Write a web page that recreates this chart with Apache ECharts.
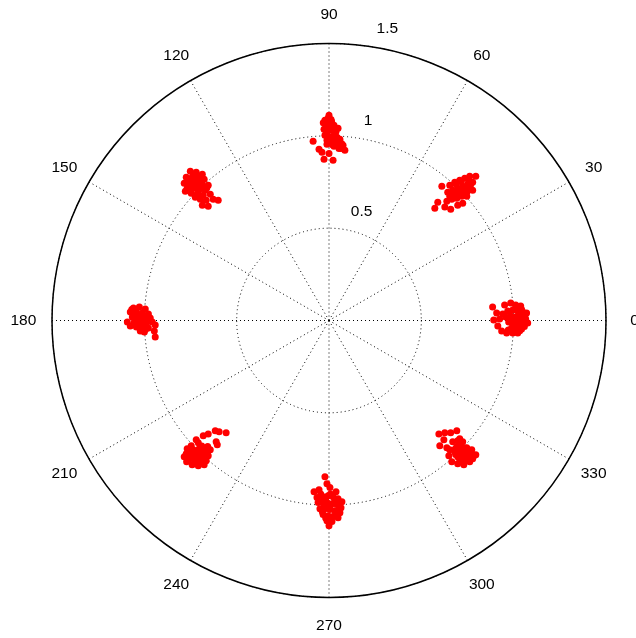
<!DOCTYPE html>
<html>
<head>
<meta charset="utf-8">
<script src="https://cdn.jsdelivr.net/npm/echarts@6/dist/echarts.min.js"></script>
<style>
  html, body { margin: 0; padding: 0; background: #ffffff; }
  #chart { width: 636px; height: 638px; }
</style>
</head>
<body>
<div id="chart"></div>
<script>
// Tick labels
const angleTickValues = [0, 30, 60, 90, 120, 150, 180, 210, 240, 270, 300, 330];
const angleTickLabels = ['0', '30', '60', '90', '120', '150', '180', '210', '240', '270', '300', '330'];
const radiusTickValues = [0.5, 1, 1.5];
const radiusLabelAngle = 82;
const angleLabelRadius = 1.655;

// Received 8-PSK symbols, [in-phase, quadrature]
const sym000 = [[0.886,0.073],[0.908,0.041],[0.892,0.003],[0.914,-0.030],[0.935,-0.057],[0.962,-0.068],[0.995,-0.068],[1.022,-0.068],[0.951,0.084],[0.984,0.095],[1.011,0.084],[1.038,0.078],[0.968,0.051],[0.995,0.057],[1.022,0.051],[1.049,0.046],[1.070,0.041],[0.957,0.019],[0.984,0.024],[1.011,0.019],[1.038,0.014],[1.065,0.008],[0.973,-0.008],[1.0,-0.014],[1.027,-0.014],[1.054,-0.019],[0.989,-0.041],[1.016,-0.041],[1.043,-0.046],[0.941,0.035],[0.924,0.008],[1.076,-0.014],[1.03,0.03],[1.00,0.00],[1.05,0.00],[1.02,-0.025],[1.007,0.062],[1.043,0.059],[1.061,0.027],[0.979,0.004],[1.017,-0.004],[1.058,-0.032],[0.997,-0.027],[1.033,-0.055],[0.971,-0.052],[1.048,0.022]];
const sym045 = [[0.654,0.732],[0.681,0.749],[0.708,0.759],[0.735,0.770],[0.762,0.781],[0.795,0.781],[0.670,0.705],[0.697,0.716],[0.724,0.727],[0.751,0.738],[0.778,0.749],[0.654,0.673],[0.681,0.684],[0.708,0.695],[0.735,0.705],[0.762,0.711],[0.638,0.646],[0.665,0.657],[0.692,0.662],[0.719,0.673],[0.746,0.673],[0.611,0.727],[0.589,0.641],[0.573,0.608],[0.627,0.614],[0.659,0.603],[0.697,0.624],[0.724,0.635],[0.778,0.705],[0.643,0.695],[0.688,0.738],[0.716,0.752],[0.741,0.722],[0.703,0.681],[0.729,0.692],[0.757,0.760],[0.676,0.697],[0.747,0.696],[0.713,0.711],[0.767,0.735]];
const sym090 = [[-0.022,1.084],[-0.005,1.095],[0.011,1.089],[-0.016,1.062],[0.005,1.068],[0.027,1.057],[-0.027,1.035],[-0.005,1.035],[0.016,1.030],[0.038,1.024],[-0.022,1.003],[0,0.997],[0.022,0.997],[0.043,0.992],[0.059,0.981],[-0.011,0.976],[0.011,0.970],[0.032,0.965],[0.054,0.959],[0.076,0.949],[0.065,0.932],[0.086,0.922],[0.027,0.943],[0,1.111],[0.049,1.041],[-0.086,0.970],[-0.054,0.927],[-0.038,0.911],[0,0.905],[0.054,0.932],[-0.027,0.873],[0.022,0.868],[-0.011,0.954],[0.006,1.047],[0.031,1.011],[-0.013,1.017],[0.046,0.966],[0.019,0.952],[0.069,0.957],[-0.031,1.071],[0.014,1.078]];
const sym135 = [[-0.751,0.808],[-0.719,0.803],[-0.686,0.792],[-0.773,0.776],[-0.741,0.776],[-0.708,0.770],[-0.676,0.765],[-0.784,0.743],[-0.751,0.743],[-0.719,0.743],[-0.686,0.738],[-0.654,0.732],[-0.768,0.716],[-0.735,0.716],[-0.703,0.711],[-0.670,0.705],[-0.746,0.689],[-0.714,0.684],[-0.681,0.678],[-0.643,0.684],[-0.627,0.657],[-0.697,0.657],[-0.665,0.651],[-0.686,0.624],[-0.654,0.619],[-0.600,0.651],[-0.778,0.700],[-0.724,0.668],[-0.733,0.792],[-0.697,0.781],[-0.762,0.758],[-0.727,0.757],[-0.694,0.752],[-0.757,0.726],[-0.722,0.727],[-0.689,0.720],[-0.709,0.697],[-0.662,0.718]];
const sym180 = [[-1.059,0.068],[-1.027,0.073],[-0.995,0.062],[-1.076,0.046],[-1.043,0.046],[-1.011,0.041],[-0.978,0.035],[-1.065,0.019],[-1.032,0.019],[-1.0,0.014],[-0.968,0.014],[-1.092,-0.008],[-1.054,-0.008],[-1.022,-0.008],[-0.989,-0.014],[-0.957,-0.008],[-1.043,-0.035],[-1.011,-0.035],[-0.978,-0.041],[-0.941,-0.024],[-0.946,-0.057],[-0.941,-0.089],[-1.022,-0.057],[-1.076,-0.030],[-1.0,-0.062],[-1.049,0.031],[-1.018,0.028],[-0.985,0.024],[-1.038,0.004],[-1.005,0.000],[-0.972,-0.003],[-1.058,-0.021],[-1.027,-0.022],[-0.994,-0.049],[-1.068,0.059]];
const sym225 = [[-0.681,-0.624],[-0.654,-0.614],[-0.616,-0.597],[-0.595,-0.603],[-0.557,-0.608],[-0.611,-0.657],[-0.605,-0.673],[-0.708,-0.662],[-0.746,-0.678],[-0.768,-0.695],[-0.735,-0.700],[-0.703,-0.695],[-0.670,-0.700],[-0.773,-0.722],[-0.746,-0.727],[-0.714,-0.727],[-0.681,-0.727],[-0.654,-0.732],[-0.762,-0.754],[-0.730,-0.754],[-0.697,-0.754],[-0.665,-0.759],[-0.741,-0.781],[-0.708,-0.786],[-0.676,-0.781],[-0.784,-0.738],[-0.643,-0.700],[-0.719,-0.646],[-0.757,-0.708],[-0.724,-0.711],[-0.692,-0.713],[-0.659,-0.716],[-0.771,-0.765],[-0.745,-0.742],[-0.713,-0.741],[-0.681,-0.743],[-0.691,-0.768],[-0.725,-0.769],[-0.657,-0.682],[-0.689,-0.680]];
const sym270 = [[-0.022,-0.846],[-0.011,-0.884],[-0.081,-0.927],[-0.054,-0.916],[0.005,-0.905],[0.038,-0.927],[-0.032,-0.954],[-0.005,-0.949],[0.022,-0.954],[0.049,-0.965],[0.070,-0.981],[-0.059,-0.986],[-0.038,-0.981],[-0.011,-0.986],[0.016,-0.992],[0.043,-0.997],[0.065,-1.014],[-0.049,-1.019],[-0.022,-1.019],[0.005,-1.024],[0.032,-1.030],[0.059,-1.041],[-0.032,-1.051],[-0.005,-1.057],[0.022,-1.062],[0.049,-1.068],[-0.011,-1.084],[0.016,-1.089],[-0.065,-0.959],[0,-1.111],[-0.018,-0.965],[0.031,-0.968],[0.006,-1.003],[-0.027,-1.000],[0.054,-1.023],[-0.036,-1.035],[0.037,-1.048],[0.011,-1.073],[-0.018,-1.069],[0.008,-0.940],[-0.045,-0.940]];
const sym315 = [[0.595,-0.614],[0.627,-0.608],[0.659,-0.608],[0.692,-0.597],[0.600,-0.678],[0.622,-0.646],[0.638,-0.689],[0.649,-0.732],[0.665,-0.765],[0.697,-0.776],[0.730,-0.781],[0.762,-0.765],[0.670,-0.657],[0.697,-0.651],[0.724,-0.657],[0.692,-0.684],[0.719,-0.684],[0.746,-0.689],[0.773,-0.700],[0.681,-0.711],[0.708,-0.711],[0.735,-0.716],[0.762,-0.727],[0.795,-0.727],[0.697,-0.738],[0.724,-0.743],[0.751,-0.749],[0.708,-0.641],[0.654,-0.700],[0.778,-0.749],[0.683,-0.696],[0.713,-0.697],[0.741,-0.703],[0.769,-0.715],[0.686,-0.725],[0.714,-0.727],[0.743,-0.731],[0.781,-0.738],[0.709,-0.756],[0.738,-0.761],[0.711,-0.669],[0.758,-0.712]];

// I/Q pairs to [radius, angle in degrees]
function toPolar(points) {
  return points.map(function (p) {
    let a = Math.atan2(p[1], p[0]) * 180 / Math.PI;
    if (a < 0) a += 360;
    return [Math.hypot(p[0], p[1]), a];
  });
}

const allSymbols = [].concat(sym000, sym045, sym090, sym135, sym180, sym225, sym270, sym315);

const labelFont = { color: '#000000', fontFamily: 'Liberation Sans, Arial, sans-serif', fontSize: 15.5 };
const dotted = { color: '#000000', width: 1, type: [1, 3] };
const chart = echarts.init(document.getElementById('chart'), null, { renderer: 'canvas' });

chart.setOption({
  backgroundColor: '#ffffff',
  animation: false,
  polar: { center: [329, 320.5], radius: 277 },
  angleAxis: {
    type: 'value',
    min: 0,
    max: 360,
    interval: 30,
    startAngle: 0,
    clockwise: false,
    axisLine: { show: true, lineStyle: { color: '#000000', width: 1.5 } },
    axisTick: { show: false },
    axisLabel: { show: false },
    splitLine: { show: true, lineStyle: dotted },
    z: 3
  },
  radiusAxis: {
    type: 'value',
    min: 0,
    max: 1.5,
    interval: 0.5,
    axisLine: { show: false },
    axisTick: { show: false },
    axisLabel: { show: false },
    splitLine: { show: true, lineStyle: dotted }
  },
  series: [
    {
      name: 'angle labels',
      type: 'scatter',
      coordinateSystem: 'polar',
      clip: false,
      symbolSize: 0,
      silent: true,
      itemStyle: { opacity: 1 },
      data: angleTickValues.map(function (a) { return [angleLabelRadius, a]; }),
      label: Object.assign({
        show: true,
        position: 'inside',
        align: 'center',
        verticalAlign: 'middle',
        formatter: function (p) { return angleTickLabels[p.dataIndex]; }
      }, labelFont),
      z: 4
    },
    {
      name: 'radius labels',
      type: 'scatter',
      coordinateSystem: 'polar',
      symbolSize: 0,
      silent: true,
      itemStyle: { opacity: 1 },
      data: radiusTickValues.map(function (r) { return [r, radiusLabelAngle]; }),
      label: Object.assign({
        show: true,
        position: [9, -9],
        align: 'left',
        verticalAlign: 'bottom',
        formatter: function (p) { return String(p.value[0]); }
      }, labelFont),
      z: 4
    },
    {
      name: 'symbols',
      type: 'scatter',
      coordinateSystem: 'polar',
      symbol: 'circle',
      symbolSize: 7,
      itemStyle: { color: '#ff0000', opacity: 1 },
      data: toPolar(allSymbols),
      z: 5
    }
  ]
});
</script>
</body>
</html>
